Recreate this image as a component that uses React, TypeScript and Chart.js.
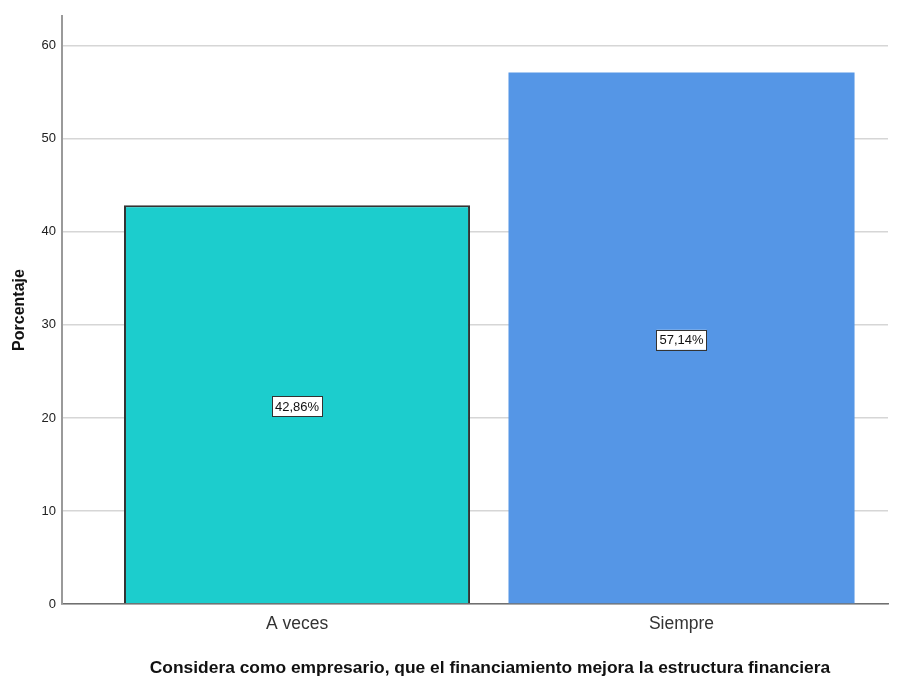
import React, { useEffect, useRef } from "react";
import { Chart, registerables } from "chart.js";

Chart.register(...registerables);

const categories: string[] = ["A veces", "Siempre"];
const percentages: number[] = [42.86, 57.14];
const barColors: string[] = ["#1ccdcd", "#5596e6"];
const barBorders: string[] = ["#333333", "#5596e6"];
const barBorderWidths: number[] = [2, 0];
const yTicks: number[] = [0, 10, 20, 30, 40, 50, 60];
const xTitle = "Considera como empresario, que el financiamiento mejora la estructura financiera";
const yTitle = "Porcentaje";

const NARROW = '"Liberation Sans Narrow", "Arial Narrow", "Liberation Sans", Arial, sans-serif';
const SANS = '"Liberation Sans", Arial, sans-serif';

const labelPlugin = {
  id: "barLabels",
  afterDatasetsDraw(chart: any) {
    const ctx = chart.ctx;
    const meta = chart.getDatasetMeta(0);
    ctx.save();
    ctx.font = `13px ${NARROW}`;
    ctx.textAlign = "center";
    ctx.textBaseline = "middle";
    meta.data.forEach((bar: any, i: number) => {
      const v = percentages[i];
      const text = v.toFixed(2).replace(".", ",") + "%";
      const cx = bar.x;
      const cy = (bar.y + bar.base) / 2 + 2;
      const w = ctx.measureText(text).width + 6;
      const h = 20;
      ctx.fillStyle = "#ffffff";
      ctx.fillRect(cx - w / 2, cy - h / 2, w, h);
      ctx.strokeStyle = "#333333";
      ctx.lineWidth = 1;
      ctx.strokeRect(Math.round(cx - w / 2) + 0.5, Math.round(cy - h / 2) + 0.5, Math.round(w), h);
      ctx.fillStyle = "#111111";
      ctx.fillText(text, cx, cy + 1);
    });
    ctx.restore();
  },
  afterDraw(chart: any) {
    const ctx = chart.ctx;
    ctx.save();
    ctx.font = `bold 17.4px ${NARROW}`;
    ctx.fillStyle = "#111111";
    ctx.textAlign = "center";
    ctx.textBaseline = "middle";
    ctx.fillText(xTitle, 490, 668);
    ctx.restore();
  },
};

export default function App() {
  const ref = useRef<HTMLCanvasElement | null>(null);
  useEffect(() => {
    if (!ref.current) return;
    const chart = new Chart(ref.current, {
      type: "bar",
      data: {
        datasets: [
          {
            data: percentages.map((p, i) => ({ x: i + 1, y: p })),
            backgroundColor: barColors,
            borderColor: barBorders,
            borderWidth: barBorderWidths,
            barPercentage: 0.9,
            categoryPercentage: 1,
          },
        ],
      },
      options: {
        animation: false,
        responsive: false,
        maintainAspectRatio: false,
        layout: { padding: { top: 16, right: 13, left: 0, bottom: 0 } },
        plugins: { legend: { display: false }, tooltip: { enabled: false } },
        scales: {
          x: {
            type: "linear",
            offset: false,
            bounds: "data",
            min: 0.3888,
            max: 2.537,
            afterBuildTicks: (scale: any) => {
              scale.ticks = categories.map((_, i) => ({ value: i + 1 }));
            },
            afterFit: (scale: any) => {
              scale.height = 78;
            },
            ticks: {
              autoSkip: false,
              maxRotation: 0,
              padding: 10,
              color: "#333333",
              font: { family: SANS, size: 17.5 },
              callback: (v: any) => categories[Number(v) - 1] ?? "",
            },
            grid: { display: false, drawTicks: false, offset: false },
            border: { display: true, color: "#707070", width: 1.5 },
          },
          y: {
            min: 0,
            max: 63.2,
            afterBuildTicks: (scale: any) => {
              scale.ticks = yTicks.map((v) => ({ value: v }));
            },
            afterFit: (scale: any) => {
              scale.width = 62;
            },
            ticks: {
              padding: 6,
              color: "#222222",
              font: { family: NARROW, size: 13 },
            },
            grid: { color: "#d6d6d6", lineWidth: 1.5, drawTicks: false },
            border: { display: true, color: "#9a9a9a", width: 2 },
            title: {
              display: true,
              text: yTitle,
              color: "#111111",
              font: { family: SANS, size: 16, weight: "bold" },
              padding: { top: 10, bottom: 0 },
            },
          },
        },
      },
      plugins: [labelPlugin],
    } as any);
    return () => chart.destroy();
  }, []);
  return (
    <div style={{ position: "fixed", left: 0, top: 0, width: 901, height: 682, background: "#fff" }}>
      <canvas ref={ref} width={901} height={682} style={{ width: 901, height: 682 }} />
    </div>
  );
}
